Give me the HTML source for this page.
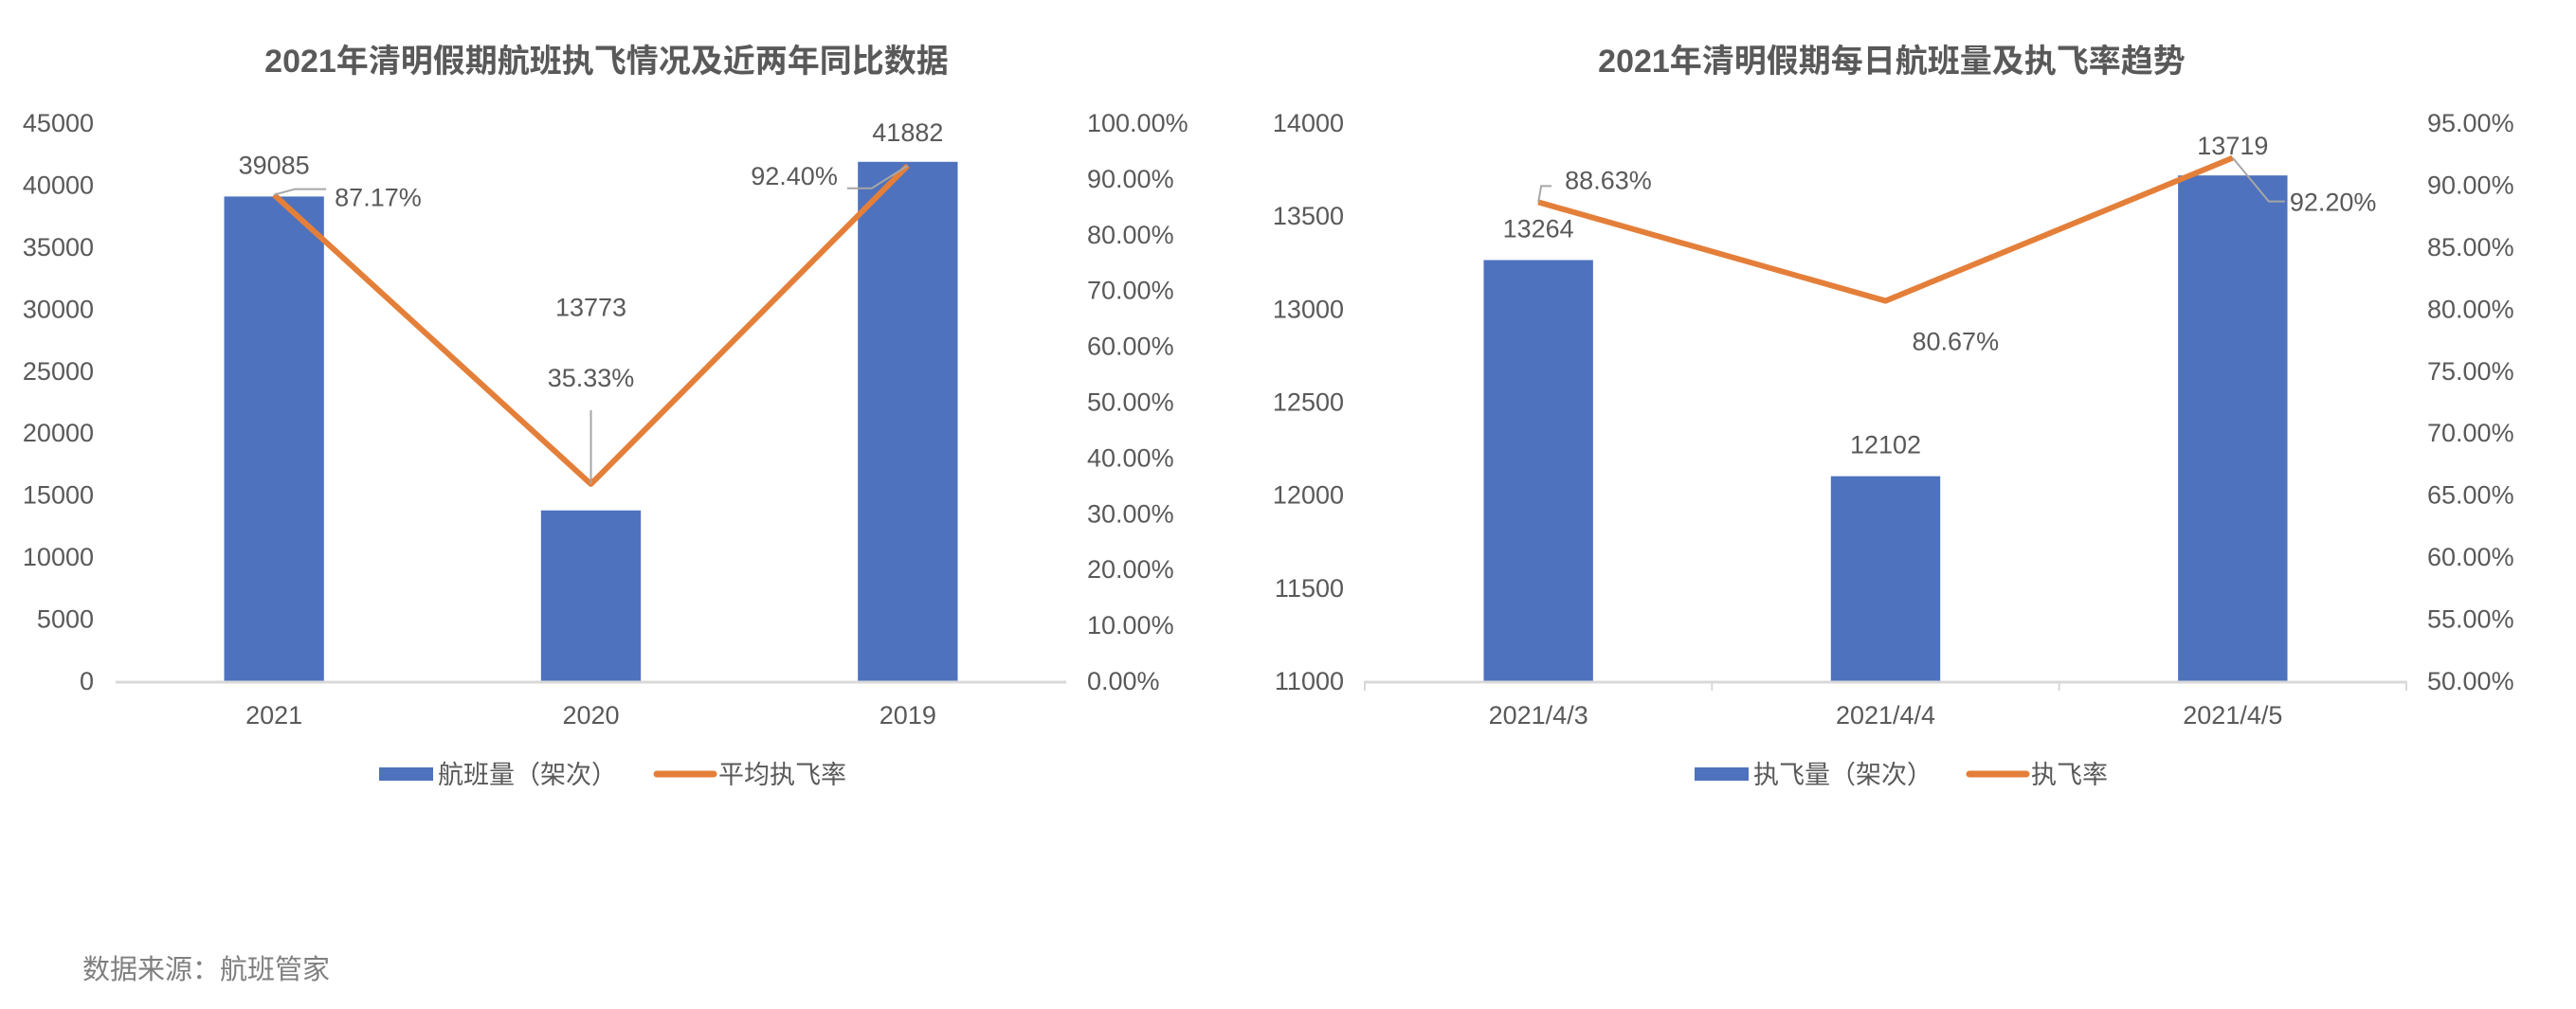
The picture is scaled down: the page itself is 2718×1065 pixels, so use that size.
<!DOCTYPE html>
<html><head><meta charset="utf-8">
<style>
html,body{margin:0;padding:0;background:#fff;}
svg text{font-family:"Liberation Sans","Noto Sans CJK SC",sans-serif;fill:#595959;}
</style></head>
<body>
<svg id="c" width="2718" height="1060" viewBox="0 0 2718 1060" xmlns="http://www.w3.org/2000/svg">
<text x="640" y="76" text-anchor="middle" font-size="34" font-weight="bold">2021年清明假期航班执飞情况及近两年同比数据</text>
<text x="1996" y="76" text-anchor="middle" font-size="34" font-weight="bold">2021年清明假期每日航班量及执飞率趋势</text>
<text x="87" y="1033" font-size="29" fill="#7f7f7f" style="fill:#7f7f7f">数据来源：航班管家</text>
<g id="left"></g>
<g id="right"></g>
</svg>
<script>
// Left chart data
const leftCategories = ["2021","2020","2019"];
const leftFlights = [39085,13773,41882];
const leftRates = [87.17,35.33,92.40];
const leftYTicks = [0,5000,10000,15000,20000,25000,30000,35000,40000,45000];
const leftRTicks = [0,10,20,30,40,50,60,70,80,90,100];
// Right chart data
const rightCategories = ["2021/4/3","2021/4/4","2021/4/5"];
const rightFlights = [13264,12102,13719];
const rightRates = [88.63,80.67,92.20];
const rightYTicks = [11000,11500,12000,12500,13000,13500,14000];
const rightRTicks = [50,55,60,65,70,75,80,85,90,95];

const NS="http://www.w3.org/2000/svg";
function mk(parent,tag,attrs,txt){const e=document.createElementNS(NS,tag);for(const k in attrs)e.setAttribute(k,attrs[k]);if(txt!==undefined)e.textContent=txt;parent.appendChild(e);return e;}

function draw(g,cfg){
  const {x0,x1,yTop,yBot,yMin,yMax,rMin,rMax,cats,vals,rates,yTicks,rTicks,lblX,rLblX,tickMarks,barLabelOff,rateLabels,legend}=cfg;
  const cw=(x1-x0)/cats.length;
  const xc=i=>x0+cw*(i+0.5);
  const yL=v=>yBot-(v-yMin)/(yMax-yMin)*(yBot-yTop);
  const yR=v=>yBot-(v-rMin)/(rMax-rMin)*(yBot-yTop);
  yTicks.forEach(t=>{const e=mk(g,"text",{x:lblX,y:yL(t)+9,"text-anchor":"end","font-size":27},String(t));
    
    });
  rTicks.forEach(t=>{const e=mk(g,"text",{x:rLblX,y:yR(t)+9,"font-size":27},t.toFixed(2)+"%");
    
    });
  const bw=cw*0.315;
  vals.forEach((v,i)=>{const b=mk(g,"rect",{x:xc(i)-bw/2,y:yL(v),width:bw,height:yBot-yL(v),fill:"#4E72BD"});
    
    
    const t=mk(g,"text",{x:xc(i),y:yL(v)-barLabelOff[i],"text-anchor":"middle","font-size":27},String(v));
    
    
    const c=mk(g,"text",{x:xc(i),y:yBot+45,"text-anchor":"middle","font-size":27},cats[i]);
    
    });
  const ax=mk(g,"line",{x1:x0,x2:x1,y1:yBot+1,y2:yBot+1,stroke:"#d9d9d9","stroke-width":3});
  
  
  if(tickMarks){for(let i=0;i<=cats.length;i++){const tm=mk(g,"line",{x1:x0+cw*i,x2:x0+cw*i,y1:yBot,y2:yBot+10,stroke:"#d9d9d9","stroke-width":2});
    
    }}
  const pts=rates.map((r,i)=>xc(i)+","+yR(r)).join(" ");
  const pl=mk(g,"polyline",{points:pts,fill:"none",stroke:"#E47F3A","stroke-width":6,"stroke-linejoin":"round"});
  
  
  rates.forEach((r,i)=>{const L=rateLabels[i];const px=xc(i),py=yR(r);
    if(L.leader){const ld=mk(g,"polyline",{points:L.leader(px,py),fill:"none",stroke:"#a6a6a6","stroke-width":2});
      
      }
    const t=mk(g,"text",{x:px+L.dx,y:py+L.dy,"text-anchor":L.anchor,"font-size":27},r.toFixed(2)+"%");
    
    });
  // legend
  const lb=mk(g,"rect",{x:legend.bx,y:legend.y-7,width:57,height:14,fill:"#4E72BD"});
  
  
  const lt=mk(g,"text",{x:legend.bx+62,y:legend.y+10,"font-size":27},legend.t1);
  
  
  const ll=mk(g,"line",{x1:legend.lx,x2:legend.lx+60,y1:legend.y,y2:legend.y,stroke:"#E47F3A","stroke-width":7,"stroke-linecap":"round"});
  
  
  const lt2=mk(g,"text",{x:legend.lx+65,y:legend.y+10,"font-size":27},legend.t2);
  
  
}

draw(document.getElementById("left"),{x0:122,x1:1125,yTop:130,yBot:719,yMin:0,yMax:45000,rMin:0,rMax:100,
  cats:leftCategories,vals:leftFlights,rates:leftRates,yTicks:leftYTicks,rTicks:leftRTicks,lblX:99,rLblX:1147,tickMarks:false,
  barLabelOff:[24,205,22],
  rateLabels:[
    {dx:64,dy:12,anchor:"start",leader:(x,y)=>`${x},${y} ${x+22},${y-6} ${x+55},${y-6}`},
    {dx:0,dy:-103,anchor:"middle",leader:(x,y)=>`${x},${y} ${x},${y-78}`},
    {dx:-74,dy:20,anchor:"end",leader:(x,y)=>`${x},${y} ${x-38},${y+24} ${x-64},${y+24}`}],
  legend:{bx:400,lx:693,y:817,t1:"航班量（架次）",t2:"平均执飞率"}});

draw(document.getElementById("right"),{x0:1440,x1:2539,yTop:130,yBot:719,yMin:11000,yMax:14000,rMin:50,rMax:95,
  cats:rightCategories,vals:rightFlights,rates:rightRates,yTicks:rightYTicks,rTicks:rightRTicks,lblX:1418,rLblX:2561,tickMarks:true,
  barLabelOff:[24,24,22],
  rateLabels:[
    {dx:28,dy:-14,anchor:"start",leader:(x,y)=>`${x},${y} ${x+3},${y-17} ${x+14},${y-17}`},
    {dx:28,dy:52,anchor:"start"},
    {dx:60,dy:56,anchor:"start",leader:(x,y)=>`${x},${y} ${x+38},${y+46} ${x+55},${y+46}`}],
  legend:{bx:1788,lx:2078,y:817,t1:"执飞量（架次）",t2:"执飞率"}});
</script>
</body></html>
